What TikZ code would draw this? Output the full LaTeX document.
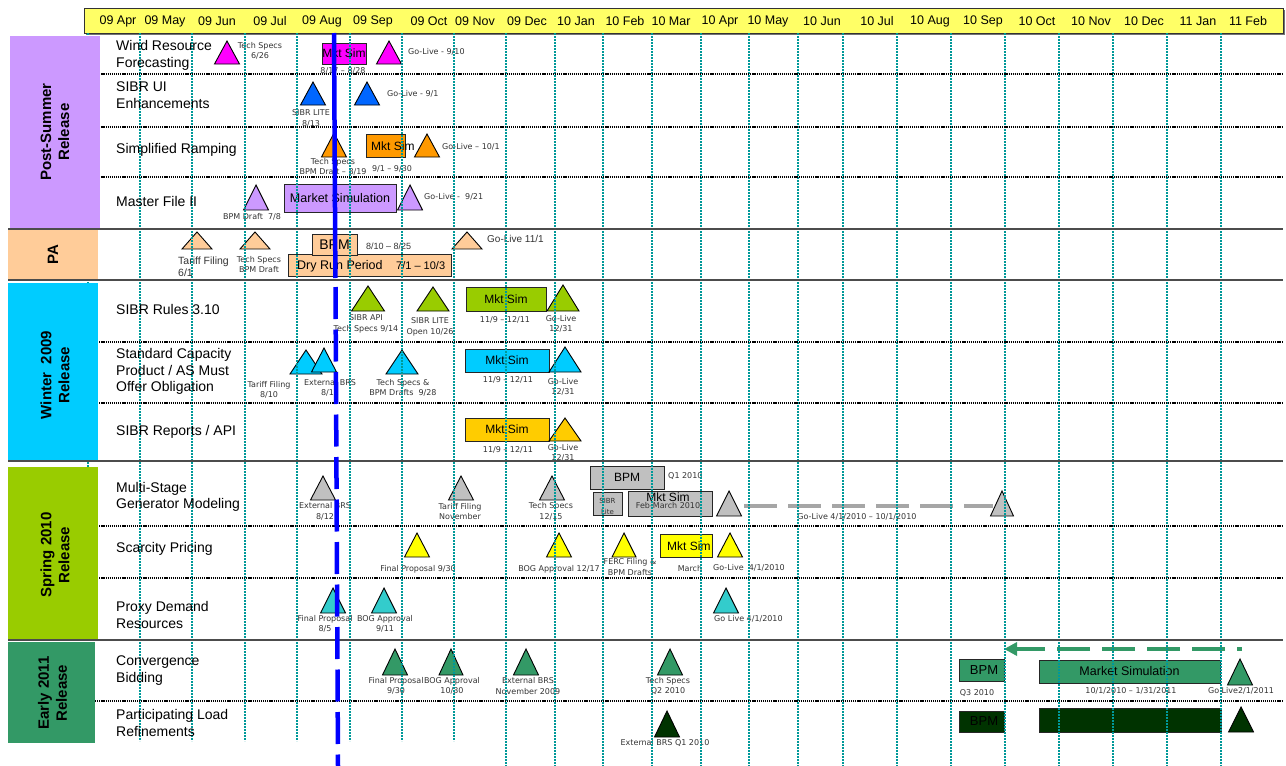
\documentclass[tikz,border=0pt]{standalone}
\usepackage{fontspec}
\setmainfont{Liberation Sans}
\newfontfamily\dv{DejaVu Sans}
\usetikzlibrary{arrows.meta}
\definecolor{hdryel}{RGB}{255,255,102}
\definecolor{lav}{RGB}{204,153,255}
\definecolor{peach}{RGB}{255,204,153}
\definecolor{skyc}{RGB}{0,204,255}
\definecolor{ygreen}{RGB}{153,204,0}
\definecolor{sgreen}{RGB}{51,153,102}
\definecolor{mag}{RGB}{255,0,255}
\definecolor{tblue}{RGB}{0,102,255}
\definecolor{orng}{RGB}{255,153,0}
\definecolor{goldc}{RGB}{255,204,0}
\definecolor{lgray}{RGB}{192,192,192}
\definecolor{dashgray}{RGB}{166,166,166}
\definecolor{yel}{RGB}{255,255,0}
\definecolor{turq}{RGB}{51,204,204}
\definecolor{dgreen}{RGB}{0,51,0}
\definecolor{tealg}{RGB}{0,153,153}
\definecolor{txt}{RGB}{51,51,51}
\definecolor{todayblue}{RGB}{0,0,255}

\tikzset{
  box/.style={draw=black!85, line width=0.9pt, inner sep=0pt, outer sep=0pt, font=\fontsize{12}{13}\selectfont},
  ms/.style={inner sep=0pt, outer sep=0pt, draw=none},
  tri/.style={draw=black, line width=0.9pt, line join=miter},
  small/.style={font=\dv\fontsize{8}{10.5}\selectfont, text=txt, align=center, inner sep=0pt},
  smallw/.style={small, anchor=west},
  palab/.style={font=\fontsize{10.5}{11.5}\selectfont, text=txt, inner sep=0pt, anchor=west, align=left},
  boxtxt/.style={font=\fontsize{12}{13}\selectfont, inner sep=0pt},
  rowlab/.style={font=\fontsize{14}{16.5}\selectfont, anchor=west, align=left, inner sep=0pt},
  seclab/.style={font=\bfseries\fontsize{15}{18}\selectfont, rotate=90, align=center, inner sep=0pt},
  hdr/.style={font=\fontsize{12.5}{14}\selectfont, inner sep=0pt},
  gridline/.style={draw=tealg, line width=1.5pt, dash pattern=on 2pt off 1pt},
  rowsep/.style={draw=black, line width=1.6pt, dash pattern=on 1.2pt off 0.9pt},
  secsep/.style={draw=black!70, line width=1.4pt},
  todaysolid/.style={draw=todayblue, line width=4.5pt},
  todaydash/.style={draw=todayblue, line width=4.5pt, dash pattern=on 32pt off 10.5pt},
  gline/.style={draw=dashgray, line width=4.5pt, dash pattern=on 33pt off 11pt},
  garrow/.style={draw=sgreen, line width=4.5pt, dash pattern=on 33pt off 12pt, dash phase=28pt, -{Triangle[length=13pt,width=13pt]}}
}

\newcommand\mymile[6]{%
  \node[ms, minimum width=#4, minimum height=#5] (#1) at (#2,{#3+#5/2}) {};
  \filldraw[tri, fill=#6] (#1.south west) -- (#1.south east) -- (#1.north) -- cycle;}
\newcommand\mybox[7]{%
  \node[box, fill=#6, minimum width={#4-#2}, minimum height={#5-#3}] (#1) at ({(#2+#4)/2},{(#3+#5)/2}) {#7};}

\begin{document}
\begin{tikzpicture}[x=1pt,y=-1pt]
\useasboundingbox (0,0) rectangle (1286,766);

% header
\fill[black!55] (86,10) rectangle (1285,35);
\filldraw[fill=hdryel, draw=black!80, line width=0.8pt] (84,8) rectangle (1283,33);
\foreach \x/\t [count=\i] in {118/09 Apr,165/09 May,217/09 Jun,270/09 Jul,322/09 Aug,373/09 Sep,429/09 Oct,475/09 Nov,527/09 Dec,576/10 Jan,625/10 Feb,671/10 Mar,720/10 Apr,768/10 May,822/10 Jun,877/10 Jul,930/10 Aug,983/10 Sep,1037/10 Oct,1091/10 Nov,1144/10 Dec,1198/11 Jan,1248/11 Feb}
  \node[hdr] (h\i) at (\x,21.5) {\t};

% ---------- Wind Resource Forecasting
\mymile{W1}{227}{41}{25}{23}{mag}
\mybox{Wb}{322}{43}{366}{64}{mag}{Mkt Sim}
\mymile{W2}{389}{41}{25}{23}{mag}
\node[small] (lW1) at (260,51) {Tech Specs\\6/26};
\node[small] (lW2) at (343,71) {8/17 – 8/28};
\node[smallw] (lW3) at (408,52) {Go-Live - 9/10};

% ---------- SIBR UI
\mymile{U1}{313}{82}{25}{23}{tblue}
\mymile{U2}{367}{82}{25}{23}{tblue}
\node[small] (lU1) at (311,118.5) {SIBR LITE\\8/13};
\node[smallw] (lU2) at (387,94) {Go-Live - 9/1};

% ---------- Simplified Ramping
\mymile{R1}{334}{133}{25}{24}{orng}
\mybox{Rb}{366}{134}{405}{157}{orng}{}
\node[boxtxt, anchor=west] (lRb) at (371,146) {Mkt Sim};
\mymile{R2}{427}{134}{25}{23}{orng}
\node[small] (lR1) at (333,167) {Tech Specs\\BPM Draft – 8/19};
\node[small] (lR2) at (392,169) {9/1 – 9/30};
\node[smallw] (lR3) at (442,147) {Go-Live – 10/1};

% ---------- Master File II
\mymile{M1}{256}{185}{25}{25}{lav}
\mybox{Mb}{284}{184}{396}{212}{lav}{\fontsize{12.5}{14}\selectfont Market Simulation}
\mymile{M2}{410}{185}{25}{25}{lav}
\node[small] (lM1) at (252,217) {BPM Draft~~7/8};
\node[smallw] (lM2) at (424,197) {Go-Live -~~9/21};

% ---------- PA
\mymile{P1}{197}{232}{30}{17}{peach}
\mymile{P2}{255}{232}{30}{17}{peach}
\mybox{Pdry}{288}{254}{451}{276}{peach}{}
\mybox{Pbpm}{312}{234}{357}{255}{peach}{\fontsize{14}{16}\selectfont BPM}
\mymile{P3}{467}{232}{30}{17}{peach}
\node[palab] (lP1) at (178,266.5) {Tariff Filing\\6/1};
\node[small] (lP2) at (259,264.5) {Tech Specs\\BPM Draft};
\node[palab, font=\fontsize{9}{10}\selectfont] (lP3) at (366,246) {8/10 – 8/25};
\node[palab, text=black, font=\fontsize{12.5}{14}\selectfont] (lP4) at (297,266) {Dry Run Period};
\node[palab, text=black, font=\fontsize{11}{12}\selectfont] (lP5) at (396,266) {7/1 – 10/3};
\node[palab, font=\fontsize{10}{11}\selectfont] (lP6) at (487,239) {Go-Live 11/1};

% ---------- SIBR Rules 3.10
\mymile{S1}{368}{286}{33}{25}{ygreen}
\mymile{S2}{433}{287}{32}{24}{ygreen}
\mybox{Sb}{466}{287}{546}{311}{ygreen}{Mkt Sim}
\mymile{S3}{563}{285}{32}{26}{ygreen}
\node[small] (lS1) at (366,324) {SIBR API\\Tech Specs 9/14};
\node[small] (lS2) at (430,327) {SIBR LITE\\Open 10/26};
\node[small] (lS3) at (505,320) {11/9 – 12/11};
\node[small] (lS4) at (561,324) {Go-Live\\12/31};

% ---------- Standard Capacity
\mymile{C1}{306}{350}{32}{24}{skyc}
\mymile{C2}{324}{348}{25}{24}{skyc}
\mymile{C3}{402}{350}{32}{24}{skyc}
\mybox{Cb}{465}{349}{549}{372}{skyc}{Mkt Sim}
\mymile{C4}{565}{347}{32}{25}{skyc}
\node[small] (lC1) at (269,390) {Tariff Filing\\8/10};
\node[small] (lC2) at (330,388) {External BRS\\8/12};
\node[small] (lC3) at (403,388) {Tech Specs \&\\BPM Drafts~~9/28};
\node[small] (lC4) at (508,380) {11/9 – 12/11};
\node[small] (lC5) at (563,387) {Go-Live\\12/31};

% ---------- SIBR Reports / API
\mybox{Ab}{465}{418}{549}{441}{goldc}{Mkt Sim}
\mymile{A1}{565}{418}{32}{23}{goldc}
\node[small] (lA1) at (508,450) {11/9 – 12/11};
\node[small] (lA2) at (563,453) {Go-Live\\12/31};

% ---------- Multi-Stage Generator Modeling
\mymile{G1}{323}{476}{25}{24}{lgray}
\mymile{G2}{461}{476}{25}{24}{lgray}
\mymile{G3}{552}{476}{25}{24}{lgray}
\mybox{Gbpm}{590}{466}{664}{489}{lgray}{BPM}
\mybox{Glite}{593}{492}{622}{515}{lgray}{}
\mybox{Gsim}{628}{491}{712}{516}{lgray}{}
\mymile{G4}{729}{491}{25}{25}{lgray}
\mymile{G5}{1002}{491}{23}{25}{lgray}
\draw[gline] ([xshift=2.5pt,yshift=-2.5pt]G4.east) -- ([xshift=2.5pt,yshift=-2.5pt]G5.west);
\node[small] (lG1) at (325,511.5) {External BRS\\8/12};
\node[small] (lG2) at (460,511.5) {Tariff Filing\\November};
\node[small] (lG3) at (551,511.5) {Tech Specs\\12/15};
\node[smallw] (lG4) at (668,476) {Q1 2010};
\node[small, font=\dv\fontsize{7}{11}\selectfont] (lG5) at (607.5,506.5) {SIBR\\Lite};
\node[boxtxt] (lG6) at (668,497.5) {Mkt Sim};
\node[small] (lG7) at (668,506) {Feb-March 2010};
\node[small] (lG8) at (857,517) {Go-Live 4/1/2010 – 10/1/2010};

% ---------- Scarcity Pricing
\mymile{Y1}{417}{533}{25}{24}{yel}
\mymile{Y2}{559}{533}{25}{24}{yel}
\mymile{Y3}{624}{533}{24}{24}{yel}
\mybox{Yb}{660}{534}{712}{557}{yel}{}
\node[boxtxt, anchor=west] (lYb) at (667,546) {Mkt Sim};
\mymile{Y4}{730}{533}{25}{24}{yel}
\node[small] (lY1) at (418,569) {Final Proposal 9/30};
\node[small] (lY2) at (559,569) {BOG Approval 12/17};
\node[small] (lY3) at (630,567) {FERC Filing \&\\BPM Drafts};
\node[small] (lY4) at (690,569) {March};
\node[smallw] (lY5) at (713,568) {Go-Live~~4/1/2010};

% ---------- Proxy Demand Resources
\mymile{D1}{333}{588}{25}{25}{turq}
\mymile{D2}{384}{588}{25}{25}{turq}
\mymile{D3}{726}{588}{25}{25}{turq}
\node[small] (lD1) at (325,624) {Final Proposal\\8/5};
\node[small] (lD2) at (385,624) {BOG Approval\\9/11};
\node[smallw] (lD3) at (714,619) {Go Live 4/1/2010};

% ---------- Convergence Bidding
\mymile{V1}{395}{649}{25}{26}{sgreen}
\mymile{V2}{451}{649}{24}{26}{sgreen}
\mymile{V3}{526}{649}{25}{26}{sgreen}
\mymile{V4}{670}{649}{25}{26}{sgreen}
\mybox{Vbpm}{959}{659}{1004}{681}{sgreen}{\fontsize{13}{14}\selectfont\hspace*{5pt}BPM}
\mybox{Vsim}{1039}{660}{1220}{683}{sgreen}{\fontsize{12.5}{14}\selectfont Market Simulation}
\mymile{V5}{1240}{659}{25}{26}{sgreen}
\coordinate (arrstart) at (1242,649);
\draw[garrow] (arrstart) -- (Vbpm.north east |- arrstart);
\node[small] (lV1) at (396,686) {Final Proposal\\9/30};
\node[small] (lV2) at (452,686) {BOG Approval\\10/30};
\node[small] (lV3) at (528,686) {External BRS\\November 2009};
\node[small] (lV4) at (668,686) {Tech Specs\\Q2 2010};
\node[small] (lV5) at (977,693) {Q3 2010};
\node[small] (lV6) at (1131,691) {10/1/2010 – 1/31/2011};
\node[small] (lV7) at (1241,691) {Go Live2/1/2011};

% ---------- Participating Load Refinements
\mymile{L1}{667}{711}{25}{26}{dgreen}
\mybox{Lbpm}{959}{711}{1004}{732}{dgreen}{\fontsize{13}{14}\selectfont\hspace*{5pt}BPM}
\mybox{Lsim}{1039}{708}{1221}{732}{dgreen}{}
\mymile{L2}{1241}{707}{25}{25}{dgreen}
\node[small] (lL1) at (665,743) {External BRS Q1 2010};

% ---------- grid lines
\foreach \x in {88,140,192,245,297,350,402,454}
  \draw[gridline] (\x,33) -- (\x,741);
\foreach \x in {506,555,603,652,701,749,798,843,897,951,1005,1059,1113,1167,1221}
  \draw[gridline] (\x,33) -- (\x,766);

% ---------- row separators
\foreach \y in {74,127,177,342,403,526,578,701}
  \draw[rowsep] (95,\y) -- (1283,\y);

% ---------- section boxes
\fill[lav] (10,36) rectangle (100,228);
\fill[peach] (8,229) rectangle (98,279);
\fill[skyc] (8,283) rectangle (98,460);
\fill[ygreen] (8,467) rectangle (98,640);
\fill[sgreen] (8,642) rectangle (95,743);
\foreach \y in {229,280,461,640}
  \draw[secsep] (8,\y) -- (1283,\y);

\node[seclab] (sec1) at (55,132) {Post-Summer\\Release};
\node[seclab] (sec2) at (53,255) {PA};
\node[seclab] (sec3) at (55,375) {Winter\ \ 2009\\Release};
\node[seclab] (sec4) at (55,555) {Spring 2010\\Release};
\node[seclab] (sec5) at (52.5,693) {Early 2011\\Release};

% ---------- row labels
\node[rowlab] (r1) at (116,55.5) {Wind Resource\\Forecasting};
\node[rowlab] (r2) at (116,95) {SIBR UI\\Enhancements};
\node[rowlab] (r3) at (116,150) {Simplified Ramping};
\node[rowlab] (r4) at (116,201) {Master File II};
\node[rowlab] (r5) at (116,309) {SIBR Rules 3.10};
\node[rowlab] (r6) at (116,371.5) {Standard Capacity\\Product / AS Must\\Offer Obligation};
\node[rowlab] (r7) at (116,432) {SIBR Reports / API};
\node[rowlab] (r8) at (116,497) {Multi-Stage\\Generator Modeling};
\node[rowlab] (r9) at (116,549) {Scarcity Pricing};
\node[rowlab] (r10) at (116,615) {Proxy Demand\\Resources};
\node[rowlab] (r11) at (116,670.5) {Convergence\\Bidding};
\node[rowlab] (r12) at (116,723) {Participating Load\\Refinements};

% ---------- today line
\coordinate (tA) at (334,33);
\coordinate (tB) at (335.4,278);
\coordinate (tC) at (335.5,287);
\coordinate (tD) at (338,766);
\draw[todaysolid] (tA) -- (tB);
\draw[todaydash] (tC) -- (tD);
\end{tikzpicture}
\end{document}
